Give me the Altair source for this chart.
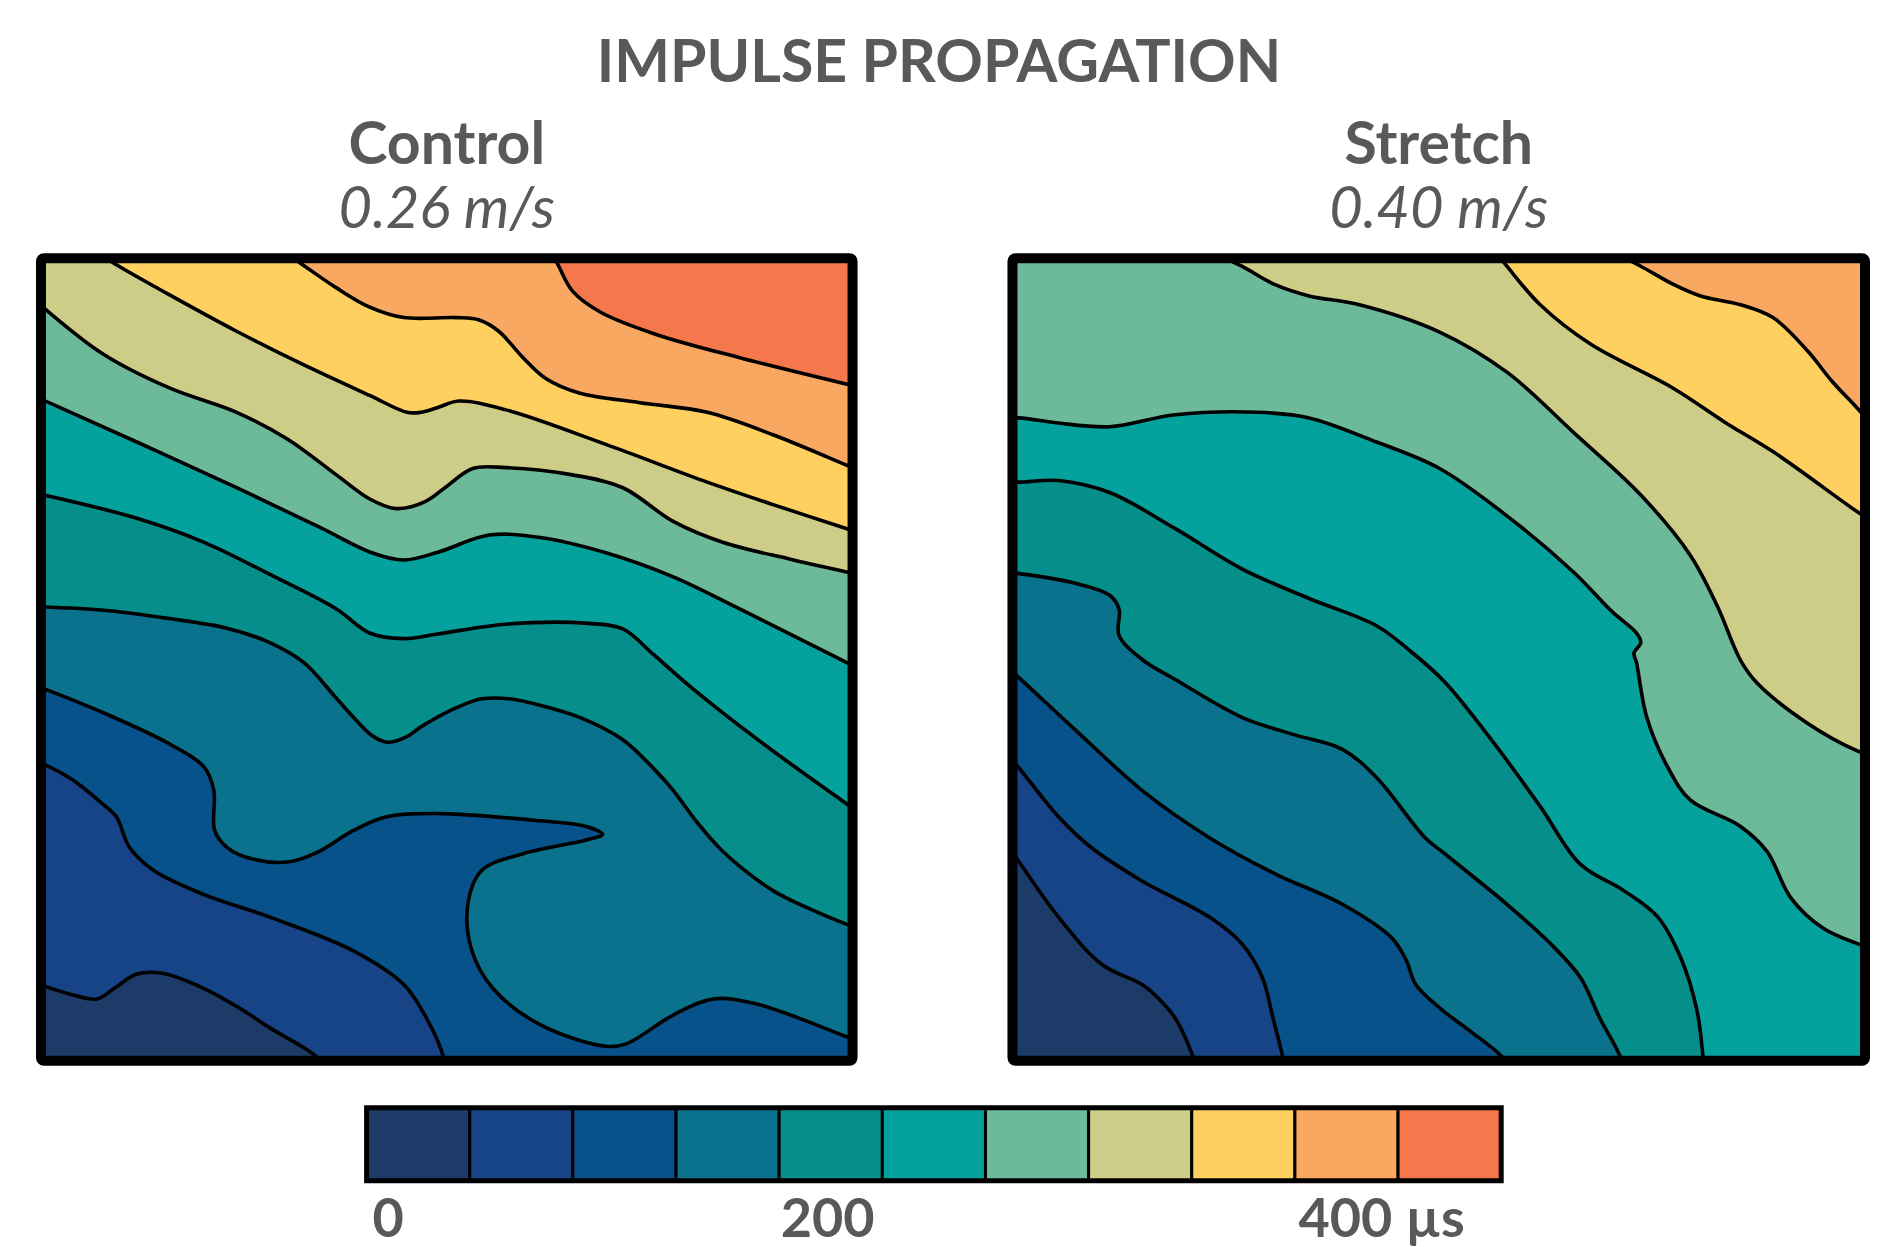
import altair as alt
import pandas as pd

FONT = "Lato"
GREY = "#595959"

main_title = "IMPULSE PROPAGATION"
panel_titles = ["Control", "Stretch"]
panel_speeds = ["0.26 m/s", "0.40 m/s"]

# activation-time bands (one colour per isochrone band, earliest first)
level_colors = ["#1d3b69", "#174387", "#08528c", "#0a728c", "#058e8a", "#05a19c",
                "#6dba9a", "#cdcd87", "#fdd060", "#f8a860", "#f4784c"]
bar_labels = ["0", "200", "400 µs"]
bar_label_pos = [0.21, 4.47, 9.84]

# isochrone lines (x, y in % of the mapped field); contour k separates band k-1 and k
control_contours = [
    [(-1, 9.8), (3.6, 8.3), (6.9, 7.7), (9.0, 9.0), (11.8, 10.8), (15.0, 10.9), (20.1, 9.0),
     (24.4, 6.6), (28.2, 4.1), (34.0, 0.45), (34.8, -1)],
    [(-1, 37.6), (3.6, 35.2), (7.6, 32.0), (9.3, 30.4), (10.9, 26.6), (13.9, 23.7), (20.1, 20.7),
     (28.2, 17.9), (38.5, 13.7), (44.7, 9.5), (47.5, 5.3), (49.6, 0.45), (49.8, -1)],
    [(-1, 46.9), (7.6, 43.4), (15.8, 39.5), (20.1, 36.6), (21.3, 33.7), (21.4, 28.7), (22.9, 26.6),
     (26.2, 25.1), (30.6, 24.8), (34.3, 26.1), (38.5, 28.7), (42.6, 30.4), (49.0, 30.8), (61.5, 29.9),
     (67.2, 29.2), (69.2, 28.2), (67.2, 27.5), (59.4, 25.8), (54.3, 23.7), (52.6, 19.5), (53.1, 13.7),
     (55.7, 9.0), (61.5, 4.5), (69.6, 1.8), (72.1, 2.1), (77.9, 5.7), (82.8, 7.7), (88.1, 7.1),
     (99.3, 3.0), (101, 2.4)],
    [(-1, 56.6), (8.1, 56.1), (15.8, 55.1), (22.9, 53.9), (28.2, 52.1), (32.4, 49.6), (36.2, 45.4),
     (38.5, 42.8), (40.7, 40.6), (42.6, 39.7), (45.1, 40.4), (46.8, 41.6), (51.2, 44.0), (54.3, 45.1),
     (57.7, 45.1), (61.5, 44.3), (66.6, 42.7), (71.7, 40.0), (75.5, 36.4), (77.9, 33.7), (80.7, 29.9),
     (84.0, 26.1), (90.2, 21.2), (94.8, 18.9), (99.3, 17.0), (101, 16.4)],
    [(-1, 70.8), (11.8, 67.6), (20.1, 64.6), (28.2, 60.6), (36.4, 56.3), (40.5, 53.3), (44.7, 52.6),
     (49.0, 53.2), (57.3, 54.4), (67.5, 54.5), (71.7, 53.8), (75.5, 50.6), (79.2, 47.3), (83.7, 43.6),
     (90.2, 38.6), (99.3, 32.0), (101, 30.8)],
    [(-1, 82.9), (11.8, 77.1), (24.1, 71.4), (34.5, 66.4), (40.5, 63.4), (44.7, 62.4), (49.0, 63.4),
     (55.2, 65.5), (61.5, 65.2), (69.6, 63.3), (77.9, 60.3), (86.1, 56.3), (94.4, 52.1), (99.3, 49.6),
     (101, 48.7)],
    [(-1, 95.0), (7.6, 88.1), (15.9, 83.8), (24.1, 80.8), (30.3, 77.5), (36.4, 73.0), (40.5, 70.0),
     (43.8, 68.8), (47.4, 69.7), (49.9, 71.5), (53.2, 73.8), (57.3, 73.9), (65.5, 73.0), (71.7, 71.4),
     (77.9, 67.2), (84.0, 64.6), (92.3, 62.5), (99.3, 60.9), (101, 60.5)],
    [(6.4, 101), (9.6, 99.0), (15.9, 95.4), (24.1, 90.9), (32.4, 86.7), (40.5, 82.9), (45.1, 80.8),
     (46.8, 80.8), (48.9, 81.4), (51.5, 82.2), (57.3, 81.1), (69.6, 76.8), (82.1, 72.1), (90.2, 69.3),
     (99.3, 66.3), (101, 65.7)],
    [(29.7, 101), (32.5, 99.0), (36.4, 96.3), (40.5, 93.9), (44.7, 92.6), (51.2, 92.6), (54.0, 92.3),
     (56.4, 90.9), (59.4, 87.6), (62.2, 85.0), (66.3, 83.2), (73.8, 82.0), (82.1, 80.8), (90.2, 78.0),
     (99.3, 74.2), (101, 73.5)],
    [(62.8, 101), (63.8, 99.0), (65.5, 95.9), (68.9, 93.3), (75.8, 90.5), (86.1, 87.6), (99.3, 84.3),
     (101, 83.9)],
]
control_sides = ["lb", "lb", "lr", "lr", "lr", "lr", "lr", "tr", "tr", "tr"]

stretch_contours = [
    [(-1, 27.4), (0.5, 25.2), (5.4, 17.9), (10.5, 12.0), (15.2, 9.5), (17.1, 7.8), (19.1, 5.3),
     (21.2, 0.45), (21.6, -1)],
    [(-1, 38.6), (0.6, 36.7), (5.4, 30.4), (9.2, 26.6), (15.2, 22.4), (23.1, 17.9), (26.9, 14.6),
     (29.3, 10.4), (30.5, 5.6), (31.7, 0.45), (31.9, -1)],
    [(-1, 49.4), (0.6, 47.9), (7.4, 41.2), (15.2, 33.7), (23.1, 27.8), (30.8, 23.3), (38.7, 19.5),
     (44.5, 15.3), (46.2, 12.5), (47.3, 9.5), (50.1, 6.6), (53.8, 3.6), (57.2, 0.75), (58.5, -1)],
    [(-1, 60.9), (0.8, 60.7), (7.4, 59.5), (11.4, 58.0), (12.5, 56.3), (12.5, 53.0), (15.2, 50.0),
     (19.1, 47.5), (26.9, 42.8), (32.8, 40.7), (38.7, 38.8), (42.7, 35.3), (48.4, 27.8), (50.7, 25.8),
     (58.0, 19.5), (63.1, 14.6), (66.6, 10.4), (68.9, 5.3), (71.3, 0.45), (71.5, -1)],
    [(-1, 72.2), (0.8, 72.1), (5.4, 72.3), (11.4, 70.8), (19.1, 66.3), (26.9, 61.3), (34.8, 57.6),
     (42.7, 54.2), (46.5, 51.2), (50.7, 47.2), (56.1, 40.1), (61.9, 31.7), (66.6, 24.5), (71.7, 21.2),
     (75.7, 17.9), (78.4, 12.8), (80.3, 6.2), (81.0, 0.45), (81.1, -1)],
    [(-1, 80.0), (0.8, 80.1), (5.1, 79.5), (11.4, 79.0), (19.1, 80.5), (28.8, 80.8), (34.8, 80.1),
     (42.7, 77.1), (50.1, 73.8), (58.0, 67.9), (65.8, 60.9), (70.4, 55.9), (73.2, 53.3), (73.7, 52.1),
     (72.9, 50.8), (73.2, 49.6), (74.4, 42.8), (76.8, 36.7), (79.5, 32.5), (85.4, 29.2), (88.5, 26.1),
     (91.3, 20.3), (95.1, 16.5), (99.1, 14.6), (101, 14.0)],
    [(22.8, 101), (26.9, 99.0), (30.6, 96.8), (34.8, 95.3), (40.7, 94.2), (50.1, 90.8), (58.0, 85.8),
     (65.8, 78.3), (73.7, 70.5), (79.5, 63.0), (82.7, 56.6), (85.4, 49.9), (87.4, 47.0), (93.2, 42.1),
     (99.1, 38.6), (101, 37.9)],
    [(56.5, 101), (58.0, 99.0), (61.9, 94.2), (67.8, 89.3), (77.5, 83.8), (83.5, 79.6), (89.2, 75.9),
     (99.1, 68.4), (101, 67.1)],
    [(70.0, 101), (73.7, 99.0), (77.4, 96.8), (80.7, 95.3), (85.4, 94.2), (89.2, 92.6), (93.3, 88.4),
     (96.1, 84.7), (99.1, 81.3), (101, 79.0)],
]
stretch_sides = ["lb", "lb", "lb", "lb", "lb", "lr", "tr", "tr", "tr"]

LO, HI = -4, 104
CLOSE = {"lb": [(HI, LO), (HI, HI), (LO, HI)],
         "lr": [(HI, HI), (LO, HI)],
         "tr": [(HI, HI)]}


def sc():
    return alt.Scale(domain=[0, 100], nice=False, zero=False)


def panel(contours, sides, width, height, name, speed):
    line_rows, fill_rows = [], []
    for k, (pts, side) in enumerate(zip(contours, sides), start=1):
        for i, (x, y) in enumerate(pts):
            line_rows.append({"cid": k, "idx": i, "x": x, "y": y})
        for i, (x, y) in enumerate(list(pts) + CLOSE[side]):
            fill_rows.append({"level": k, "idx": i, "x": x, "y": y})
    lines = pd.DataFrame(line_rows)
    fills = pd.DataFrame(fill_rows)
    one = pd.DataFrame({"v": [0]})
    X = alt.X("x:Q", scale=sc(), axis=None)
    Y = alt.Y("y:Q", scale=sc(), axis=None)
    frame_enc = dict(
        x=alt.X(datum=0, type="quantitative", scale=sc(), axis=None),
        x2=alt.X2(datum=100),
        y=alt.Y(datum=0, type="quantitative", scale=sc(), axis=None),
        y2=alt.Y2(datum=100),
    )
    layers = [alt.Chart(one).mark_rect(color=level_colors[0]).encode(**frame_enc)]
    for k in range(1, len(contours) + 1):
        layers.append(
            alt.Chart(fills)
            .transform_filter(alt.datum.level == k)
            .mark_line(fill=level_colors[k], strokeOpacity=0, interpolate="catmull-rom", clip=True)
            .encode(x=X, y=Y, order="idx:Q")
        )
    layers.append(
        alt.Chart(lines)
        .mark_line(color="black", strokeWidth=3.6, interpolate="catmull-rom", clip=True)
        .encode(x=X, y=Y, detail="cid:N", order="idx:Q")
    )
    layers.append(
        alt.Chart(one)
        .mark_rect(fillOpacity=0, stroke="black", strokeWidth=10, cornerRadius=3)
        .encode(**frame_enc)
    )
    return alt.layer(*layers).properties(
        width=width,
        height=height,
        title=alt.TitleParams(
            text=name, subtitle=speed, font=FONT, fontSize=59, fontWeight="bold", color=GREY,
            subtitleFont=FONT, subtitleFontSize=58, subtitleFontStyle="italic",
            subtitleFontWeight="normal", subtitleColor=GREY, anchor="middle",
            offset=13, subtitlePadding=6,
        ),
    )


left = panel(control_contours, control_sides, 812, 803, panel_titles[0], panel_speeds[0])
right = panel(stretch_contours, stretch_sides, 853, 803, panel_titles[1], panel_speeds[1])

# colour bar
n = len(level_colors)
cb_df = pd.DataFrame({"i": list(range(n)), "i2": list(range(1, n + 1)), "c": level_colors})
bx = alt.Scale(domain=[-3.157, n], nice=False, zero=False)
by = alt.Scale(domain=[0, 1], nice=False, zero=False)
cells = alt.Chart(cb_df).mark_rect(stroke="black", strokeWidth=3).encode(
    x=alt.X("i:Q", scale=bx, axis=None), x2="i2:Q",
    y=alt.Y(datum=0, type="quantitative", scale=by, axis=None), y2=alt.Y2(datum=1),
    color=alt.Color("c:N", scale=None),
)
cb_frame = alt.Chart(pd.DataFrame({"v": [0]})).mark_rect(
    fillOpacity=0, stroke="black", strokeWidth=5
).encode(
    x=alt.X(datum=0, type="quantitative", scale=bx, axis=None), x2=alt.X2(datum=n),
    y=alt.Y(datum=0, type="quantitative", scale=by, axis=None), y2=alt.Y2(datum=1),
)
lab_df = pd.DataFrame({"label": bar_labels, "pos": bar_label_pos})
cb_labels = alt.Chart(lab_df).mark_text(
    font=FONT, fontSize=54, fontWeight="bold", color=GREY, baseline="alphabetic",
    align="center", dy=56,
).encode(
    x=alt.X("pos:Q", scale=bx, axis=None),
    y=alt.Y(datum=0, type="quantitative", scale=by, axis=None),
    text="label:N",
)
colorbar = alt.layer(cells, cb_frame, cb_labels).properties(width=1461, height=73)

chart = (
    alt.vconcat(alt.hconcat(left, right, spacing=150), colorbar, spacing=39)
    .properties(
        title=alt.TitleParams(main_title, font=FONT, fontSize=59, fontWeight="bold", color=GREY,
                              anchor="middle", dx=-14, offset=23),
        padding={"left": 28, "top": 27, "right": 5, "bottom": 0},
        background="white",
    )
    .configure_view(strokeWidth=0)
)

chart.save("out.html", embed_options={"renderer": "svg", "actions": False})
